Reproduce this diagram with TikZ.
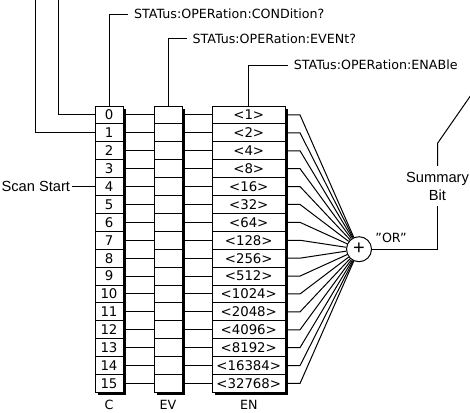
\documentclass[tikz,border=0pt]{standalone}
\usepackage{fontspec}
\setmainfont{DejaVu Sans}
\newfontfamily\arialfont{Liberation Sans}
\usetikzlibrary{positioning,backgrounds}

\tikzset{every picture/.style={line width=0.75pt}}
\tikzset{
  regcell/.style={draw, fill=white, inner sep=0pt, outer sep=0pt, minimum height=13.425pt, font=\fontsize{10}{12}\selectfont},
  cbit/.style={regcell, minimum width=21pt},
  evbit/.style={regcell, minimum width=21pt},
  enbit/.style={regcell, minimum width=54.4pt},
  cmdlabel/.style={anchor=west, inner sep=4pt, font=\fontsize{9.5}{11}\selectfont},
  regname/.style={inner sep=0.75pt, font=\fontsize{9.5}{11}\selectfont},
  orgate/.style={draw, circle, fill=white, inner sep=0pt, minimum size=18.75pt, font=\arialfont\fontsize{15}{15}\selectfont},
}

\begin{document}
\begin{tikzpicture}[x=0.75pt,y=0.75pt,yscale=-1,xscale=1]
\useasboundingbox (0,0) rectangle (470,412);

% OR gate
\node[orgate] (or) at (359,249.2) {+};
\node[inner sep=0.75pt, font=\fontsize{9.5}{11}\selectfont] (orlbl) at (391,238) {"OR"};

% Row 0
\node[cbit] (c0) at (109,114.95) {0};
\node[evbit] (v0) at (168,114.95) {};
\node[enbit] (n0) at (248.75,114.95) {<1>};
% Row 1
\node[cbit] (c1) at (109,132.85) {1};
\node[evbit] (v1) at (168,132.85) {};
\node[enbit] (n1) at (248.75,132.85) {<2>};
% Row 2
\node[cbit] (c2) at (109,150.75) {2};
\node[evbit] (v2) at (168,150.75) {};
\node[enbit] (n2) at (248.75,150.75) {<4>};
% Row 3
\node[cbit] (c3) at (109,168.65) {3};
\node[evbit] (v3) at (168,168.65) {};
\node[enbit] (n3) at (248.75,168.65) {<8>};
% Row 4
\node[cbit] (c4) at (109,186.55) {4};
\node[evbit] (v4) at (168,186.55) {};
\node[enbit] (n4) at (248.75,186.55) {<16>};
% Row 5
\node[cbit] (c5) at (109,204.45) {5};
\node[evbit] (v5) at (168,204.45) {};
\node[enbit] (n5) at (248.75,204.45) {<32>};
% Row 6
\node[cbit] (c6) at (109,222.35) {6};
\node[evbit] (v6) at (168,222.35) {};
\node[enbit] (n6) at (248.75,222.35) {<64>};
% Row 7
\node[cbit] (c7) at (109,240.25) {7};
\node[evbit] (v7) at (168,240.25) {};
\node[enbit] (n7) at (248.75,240.25) {<128>};
% Row 8
\node[cbit] (c8) at (109,258.15) {8};
\node[evbit] (v8) at (168,258.15) {};
\node[enbit] (n8) at (248.75,258.15) {<256>};
% Row 9
\node[cbit] (c9) at (109,276.05) {9};
\node[evbit] (v9) at (168,276.05) {};
\node[enbit] (n9) at (248.75,276.05) {<512>};
% Row 10
\node[cbit] (c10) at (109,293.95) {10};
\node[evbit] (v10) at (168,293.95) {};
\node[enbit] (n10) at (248.75,293.95) {<1024>};
% Row 11
\node[cbit] (c11) at (109,311.85) {11};
\node[evbit] (v11) at (168,311.85) {};
\node[enbit] (n11) at (248.75,311.85) {<2048>};
% Row 12
\node[cbit] (c12) at (109,329.75) {12};
\node[evbit] (v12) at (168,329.75) {};
\node[enbit] (n12) at (248.75,329.75) {<4096>};
% Row 13
\node[cbit] (c13) at (109,347.65) {13};
\node[evbit] (v13) at (168,347.65) {};
\node[enbit] (n13) at (248.75,347.65) {<8192>};
% Row 14
\node[cbit] (c14) at (109,365.55) {14};
\node[evbit] (v14) at (168,365.55) {};
\node[enbit] (n14) at (248.75,365.55) {<16384>};
% Row 15
\node[cbit] (c15) at (109,383.45) {15};
\node[evbit] (v15) at (168,383.45) {};
\node[enbit] (n15) at (248.75,383.45) {<32768>};

% Shadows of the registers
\begin{scope}[on background layer]
\fill ([shift={(3,3)}]c0.north west) rectangle ([shift={(3,3)}]c15.south east);
\fill ([shift={(3,3)}]v0.north west) rectangle ([shift={(3,3)}]v15.south east);
\fill ([shift={(3,3)}]n0.north west) rectangle ([shift={(3,3)}]n15.south east);
\end{scope}

% Condition -> Event -> Enable
\draw (c0) -- (v0) (v0) -- (n0);
\draw (c1) -- (v1) (v1) -- (n1);
\draw (c2) -- (v2) (v2) -- (n2);
\draw (c3) -- (v3) (v3) -- (n3);
\draw (c4) -- (v4) (v4) -- (n4);
\draw (c5) -- (v5) (v5) -- (n5);
\draw (c6) -- (v6) (v6) -- (n6);
\draw (c7) -- (v7) (v7) -- (n7);
\draw (c8) -- (v8) (v8) -- (n8);
\draw (c9) -- (v9) (v9) -- (n9);
\draw (c10) -- (v10) (v10) -- (n10);
\draw (c11) -- (v11) (v11) -- (n11);
\draw (c12) -- (v12) (v12) -- (n12);
\draw (c13) -- (v13) (v13) -- (n13);
\draw (c14) -- (v14) (v14) -- (n14);
\draw (c15) -- (v15) (v15) -- (n15);

% Enable -> "OR"
\draw (n0.east) -- ++(15,0) -- (or);
\draw (n1.east) -- ++(15,0) -- (or);
\draw (n2.east) -- ++(15,0) -- (or);
\draw (n3.east) -- ++(15,0) -- (or);
\draw (n4.east) -- ++(15,0) -- (or);
\draw (n5.east) -- ++(15,0) -- (or);
\draw (n6.east) -- ++(15,0) -- (or);
\draw (n7.east) -- ++(15,0) -- (or);
\draw (n8.east) -- ++(15,0) -- (or);
\draw (n9.east) -- ++(15,0) -- (or);
\draw (n10.east) -- ++(15,0) -- (or);
\draw (n11.east) -- ++(15,0) -- (or);
\draw (n12.east) -- ++(15,0) -- (or);
\draw (n13.east) -- ++(15,0) -- (or);
\draw (n14.east) -- ++(15,0) -- (or);
\draw (n15.east) -- ++(15,0) -- (or);

% Command labels
\node[cmdlabel] (cond) at (128.3,14) {STATus:OPERation:CONDition?};
\node[cmdlabel] (event) at (186.7,38.3) {STATus:OPERation:EVENt?};
\node[cmdlabel] (enable) at (288,65) {STATus:OPERation:ENABle};
\draw (c0) |- (cond);
\draw (v0) |- (event);
\draw (n0) |- (enable);

% Inputs from the instrument
\coordinate (in0) at (58.3,-2);
\coordinate (in1) at (35,-2);
\draw (in0) |- (c0);
\draw (in1) |- (c1);
\node[anchor=east, inner sep=0.75pt, font=\arialfont\fontsize{11}{13}\selectfont] (scan) at (71.5,186.55) {Scan Start};
\draw (scan) -- (c4);

% Summary bit
\node[align=center, inner sep=4pt, font=\arialfont\fontsize{11}{13.5}\selectfont] (sum) at (437.5,186) {Summary\\Bit};
\coordinate (sumbend) at (437.5,143.3);
\coordinate (sumend) at (478,85);
\draw (or) -| (sum.south);
\draw (sum.north) -- (sumbend) -- (sumend);

% Register names
\node[regname, below=5pt of c15] (cname) {C};
\node[regname, below=5pt of v15] (evname) {EV};
\node[regname, below=5pt of n15] (enname) {EN};

\end{tikzpicture}
\end{document}
